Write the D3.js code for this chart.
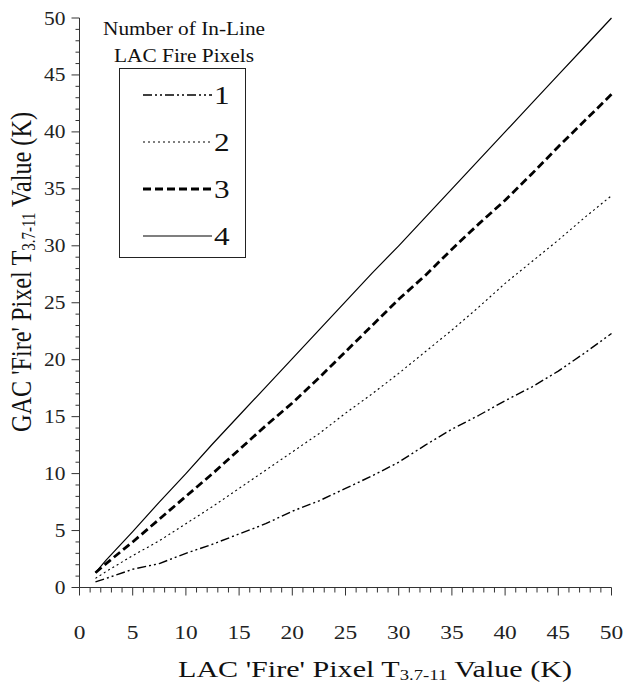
<!DOCTYPE html>
<html>
<head>
<meta charset="utf-8">
<script src="https://cdn.jsdelivr.net/npm/d3@7"></script>
<style>
  html, body { margin: 0; padding: 0; background: #fff; }
</style>
</head>
<body>
<svg id="chart" width="626" height="685"></svg>
<script>
// ---- data ----
const xValues = [1.5, 2.5, 5, 7.5, 10, 12.5, 15, 17.5, 20, 22.5, 25, 27.5, 30, 32.5, 35, 37.5, 40, 42.5, 45, 47.5, 50];
const series1 = [0.5, 0.8, 1.6, 2.1, 3.0, 3.8, 4.7, 5.6, 6.7, 7.6, 8.7, 9.8, 11.0, 12.5, 13.9, 15.1, 16.4, 17.6, 19.0, 20.6, 22.3];
const series2 = [0.8, 1.4, 2.8, 4.1, 5.6, 7.1, 8.7, 10.3, 11.9, 13.5, 15.3, 17.0, 18.8, 20.7, 22.6, 24.6, 26.7, 28.6, 30.5, 32.5, 34.4];
const series3 = [1.3, 2.1, 4.0, 6.0, 8.0, 10.0, 12.1, 14.2, 16.2, 18.4, 20.7, 23.0, 25.3, 27.4, 29.7, 31.9, 34.0, 36.3, 38.7, 41.0, 43.3];
const series4 = [1.3, 2.4, 4.9, 7.5, 10.0, 12.6, 15.1, 17.6, 20.1, 22.6, 25.1, 27.6, 30.0, 32.5, 35.0, 37.5, 40.0, 42.5, 45.0, 47.5, 50.0];
const seriesNames = ["1", "2", "3", "4"];
const majorTicks = [0, 5, 10, 15, 20, 25, 30, 35, 40, 45, 50];
const minorTicks = d3.range(0, 51, 1);
const legendTitle = ["Number of In-Line", "LAC Fire Pixels"];

// ---- layout ----
const FONT = "Liberation Serif";
const STRETCH = 1.2; // the reference type is widened horizontally
const svg = d3.select("#chart");
const x = d3.scaleLinear().domain([0, 50]).range([79.5, 611.5]);
const y = d3.scaleLinear().domain([0, 50]).range([587.5, 18]);
const axisColor = "#333";

function widen(sel, k) {
  sel.each(function () {
    const len = this.getComputedTextLength();
    d3.select(this).attr("textLength", len * k).attr("lengthAdjust", "spacingAndGlyphs");
  });
}

const styles = [
  { dash: "9,3,2,3,2,3", width: 1.4 },
  { dash: "2,3", width: 1.1 },
  { dash: "8,4", width: 2.8 },
  { dash: null, width: 1.2 }
];
const allSeries = [series1, series2, series3, series4];

// ---- axes ----
const gx = svg.append("g").attr("transform", `translate(0,${y(0)})`);
gx.append("line").attr("x1", x(0)).attr("x2", x(50)).attr("stroke", axisColor);
gx.selectAll(".mt").data(minorTicks).join("line")
  .attr("x1", d => x(d)).attr("x2", d => x(d))
  .attr("y1", 0).attr("y2", d => d % 5 === 0 ? 8 : 5)
  .attr("stroke", axisColor);
gx.selectAll(".tl").data(majorTicks).join("text")
  .attr("x", d => x(d)).attr("y", 51)
  .attr("font-family", FONT)
  .attr("text-anchor", "middle").attr("font-size", 19.5).attr("fill", "#222")
  .text(d => d)
  .call(widen, STRETCH);

const gy = svg.append("g").attr("transform", `translate(${x(0)},0)`);
gy.append("line").attr("y1", y(0)).attr("y2", y(50)).attr("stroke", axisColor);
gy.selectAll(".mt").data(minorTicks).join("line")
  .attr("y1", d => y(d)).attr("y2", d => y(d))
  .attr("x1", 0).attr("x2", d => d % 5 === 0 ? -8 : -4)
  .attr("stroke", axisColor);
gy.selectAll(".tl").data(majorTicks).join("text")
  .attr("x", -14).attr("y", d => y(d) + 6.5)
  .attr("font-family", FONT)
  .attr("text-anchor", "end").attr("font-size", 19.5).attr("fill", "#222")
  .text(d => d)
  .call(widen, 1.1);

// ---- axis titles ----
function titleText(sel, prefix) {
  sel.append("tspan").text(prefix + " 'Fire' Pixel T");
  sel.append("tspan").attr("font-size", "0.62em").attr("dy", 3).text("3.7-11");
  sel.append("tspan").attr("dy", -3).text(" Value (K)");
}
const xt = svg.append("text")
  .attr("x", 375).attr("y", 677).attr("text-anchor", "middle")
  .attr("font-family", FONT)
  .attr("font-size", 24).attr("fill", "#111")
  .attr("textLength", 394).attr("lengthAdjust", "spacingAndGlyphs");
titleText(xt, "LAC");

const yt = svg.append("text")
  .attr("transform", "translate(31,272) rotate(-90) scale(1,1.2)")
  .attr("text-anchor", "middle")
  .attr("font-family", FONT)
  .attr("font-size", 24).attr("fill", "#111")
  .attr("textLength", 320).attr("lengthAdjust", "spacingAndGlyphs");
titleText(yt, "GAC");

// ---- lines ----
const line = d3.line().x((d, i) => x(xValues[i])).y(d => y(d));
allSeries.forEach((s, k) => {
  svg.append("path").datum(s)
    .attr("d", line)
    .attr("fill", "none")
    .attr("stroke", "#000")
    .attr("stroke-width", styles[k].width)
    .attr("stroke-dasharray", styles[k].dash)
    .attr("stroke-linejoin", "round");
});

// ---- legend ----
const lg = svg.append("g");
lg.selectAll(".lt").data(legendTitle).join("text")
  .attr("x", 184).attr("y", (d, i) => 35 + i * 27)
  .attr("font-family", FONT)
  .attr("text-anchor", "middle").attr("font-size", 19).attr("fill", "#111")
  .attr("textLength", (d, i) => i === 0 ? 162 : 140).attr("lengthAdjust", "spacingAndGlyphs")
  .text(d => d);
lg.append("rect").attr("x", 119.5).attr("y", 68.5).attr("width", 126).attr("height", 189)
  .attr("fill", "#fff").attr("stroke", "#222");
seriesNames.forEach((name, k) => {
  const yy = 95 + k * 47;
  lg.append("line").attr("x1", 143).attr("x2", 212).attr("y1", yy).attr("y2", yy)
    .attr("stroke", "#000").attr("stroke-width", styles[k].width)
    .attr("stroke-dasharray", styles[k].dash);
  lg.append("text").attr("x", 214).attr("y", yy + 9)
    .attr("font-family", FONT)
    .attr("font-size", 26).attr("fill", "#111").text(name)
    .call(widen, STRETCH);
});
</script>
</body>
</html>
